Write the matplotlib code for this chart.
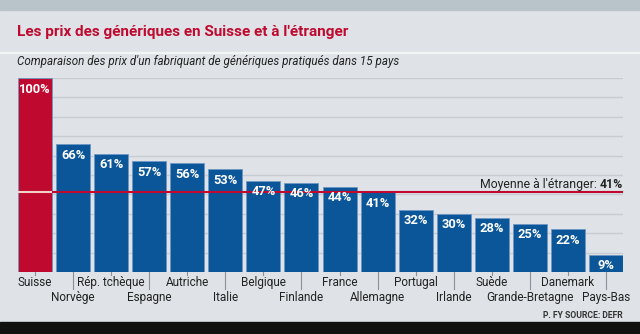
import matplotlib
matplotlib.use("Agg")
import matplotlib.pyplot as plt
from matplotlib.patches import Rectangle

# data
countries = ["Suisse", "Norvège", "Rép. tchèque", "Espagne", "Autriche", "Italie",
             "Belgique", "Finlande", "France", "Allemagne", "Portugal", "Irlande",
             "Suède", "Grande-Bretagne", "Danemark", "Pays-Bas"]
prices = [100, 66, 61, 57, 56, 53, 47, 46, 44, 41, 32, 30, 28, 25, 22, 9]
average = 41

title = "Les prix des génériques en Suisse et à l'étranger"
subtitle = "Comparaison des prix d'un fabriquant de génériques pratiqués dans 15 pays"
avg_label = "Moyenne à l'étranger: "
source = "P. FY SOURCE: DEFR"

RED = "#c0092f"
BLUE = "#0b5699"
BG = "#dfe3e7"
plt.rcParams['font.family'] = ['Roboto', 'DejaVu Sans']

W, H = 640, 334
fig = plt.figure(figsize=(W / 100, H / 100), dpi=100)
fig.patch.set_facecolor(BG)

# background bands
fig.patches.append(Rectangle((0, 1 - 10 / H), 1, 10 / H, transform=fig.transFigure,
                             color="#b9c3ca", zorder=0))
fig.patches.append(Rectangle((0, 1 - 53 / H), 1, 1 / H, transform=fig.transFigure,
                             color="#f2f4f6", zorder=0))
fig.patches.append(Rectangle((0, 0), 1, 12 / H, transform=fig.transFigure,
                             color="#111111", zorder=0))

fig.text(17 / W, 1 - 32 / H, title, color=RED, fontsize=11, fontweight="bold",
         va="center", ha="left")
fig.text(17 / W, 1 - 62 / H, subtitle, color="#222222", fontsize=8.4, style="italic",
         va="center", ha="left")

ax = fig.add_axes([18 / W, 62 / H, 605 / W, 194 / H])
ax.set_facecolor(BG)
width = 34 / 38
x = list(range(len(countries)))
colors = [RED] + [BLUE] * (len(countries) - 1)
ax.bar(x, prices, width=width, color=colors, edgecolor="#6f97c4", linewidth=0.6, zorder=2)
ax.set_xlim(-width / 2, len(countries) - 1 + width / 2)
ax.set_ylim(0, 100)
ax.set_yticks(range(10, 101, 10))
ax.yaxis.grid(True, color="#c6ccd2", linewidth=1, zorder=0)
ax.set_axisbelow(True)
ax.tick_params(left=False, bottom=False, labelleft=False, labelbottom=False)
for s in ax.spines.values():
    s.set_visible(False)

for xi, v in zip(x, prices):
    ax.text(xi, v - 5.7, f"{v}%", color="white", fontsize=9.3, fontweight="bold",
            ha="center", va="center", zorder=4)

# average line
ax.hlines(average, -width / 2, len(countries) - 1 + width / 2, color=RED, lw=1.5, zorder=3)
ax.hlines(average, -width / 2, width / 2, color="#f2d2c6", lw=1.5, zorder=3)
xr = len(countries) - 1 + width / 2
t = ax.text(xr, average + 4.3, f"{average}%", ha="right", va="center", fontsize=8.8,
            fontweight="bold", color="#222222", zorder=4)
ax.annotate(avg_label, xycoords=t, xy=(0, 0.5), ha="right", va="center",
            fontsize=8.8, color="#222222", zorder=4)

# staggered category labels
for xi, name in zip(x, countries):
    if xi % 2 == 0:
        ax.plot([xi, xi], [0, -1.8], color="#8a9096", lw=0.8, clip_on=False)
        ax.text(xi, -5.2, name, ha="center", va="center", fontsize=8.5,
                color="#222222", clip_on=False)
    else:
        ax.plot([xi, xi], [0, -9], color="#8a9096", lw=0.8, clip_on=False)
        ax.text(xi, -12.9, name, ha="center", va="center", fontsize=8.5,
                color="#222222", clip_on=False)

fig.text(623 / W, 1 - 316 / H, source, ha="right", va="center", fontsize=6.2,
         fontweight="bold", color="#333333")

fig.savefig("out.png", dpi=100, facecolor=fig.get_facecolor())
